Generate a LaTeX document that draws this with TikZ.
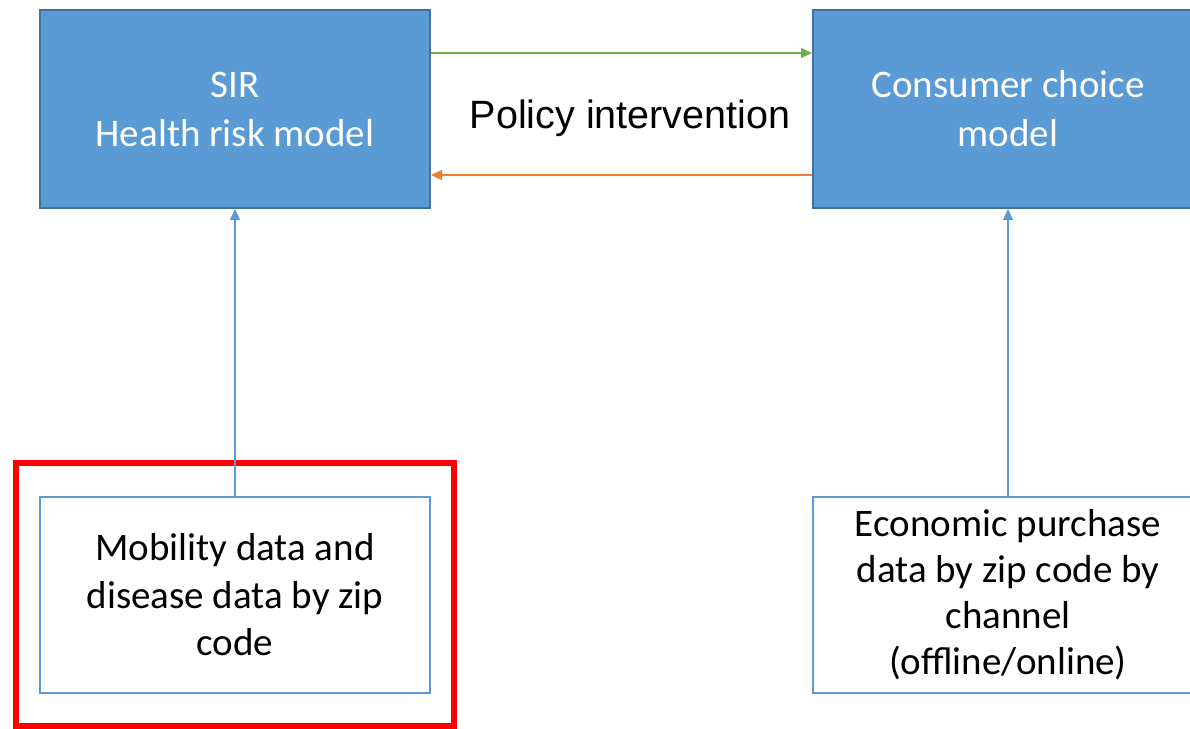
\documentclass[tikz,border=0pt]{standalone}
\usepackage{fontspec}
\setmainfont{Carlito}
\newfontfamily\arialfont{Liberation Sans}
\usetikzlibrary{arrows.meta}
\definecolor{boxblue}{HTML}{5B9BD5}
\definecolor{boxedge}{HTML}{41719C}
\definecolor{arrgreen}{HTML}{70AD47}
\definecolor{arrorange}{HTML}{ED7D31}
\definecolor{hired}{HTML}{FF0000}
\tikzset{
  model/.style={draw=boxedge, fill=boxblue, line width=2pt, text=white,
    minimum width=390pt, minimum height=198pt, align=center, inner sep=0pt,
    font=\fontsize{39}{49}\selectfont},
  source/.style={draw=boxblue, fill=white, line width=2pt, text=black,
    minimum width=390pt, minimum height=196pt, align=center, inner sep=0pt,
    font=\fontsize{39}{47.5}\selectfont},
  link/.style={line width=1.5pt, -{Triangle[length=11pt,width=10pt]}},
}
\begin{document}
\begin{tikzpicture}[x=1pt,y=-1pt]
  \useasboundingbox (0,0) rectangle (1190,728);
  \clip (0,0) rectangle (1190,728);
  % model boxes
  \node[model] (sir) at (235,109) {SIR\\Health risk model};
  \node[model] (cc) at (1008,109) {Consumer choice\\model};
  % data sources
  \node[source] (mob) at (235,595) {Mobility data and\\disease data by zip\\code};
  \node[source, font=\fontsize{39}{46}\selectfont] (eco) at (1008,595)
    {Economic purchase\\data by zip code by\\channel\\(offline/online)};
  % highlight frame
  \node[draw=hired, line width=6pt, minimum width=438pt, minimum height=263pt,
    inner sep=0pt] (hl) at (235,594) {};
  % policy loop
  \node[font=\arialfont\fontsize{39.5}{47}\selectfont] (pol) at (630,118) {Policy intervention};
  \draw[link, draw=arrgreen, fill=arrgreen] (sir.east |- 0,53) -- (cc.west |- 0,53);
  \draw[link, draw=arrorange, fill=arrorange] (cc.west |- 0,175) -- (sir.east |- 0,175);
  % data feeds
  \draw[link, draw=boxblue, fill=boxblue] (mob.north) -- (sir.south);
  \draw[link, draw=boxblue, fill=boxblue] (eco.north) -- (cc.south);
\end{tikzpicture}
\end{document}
